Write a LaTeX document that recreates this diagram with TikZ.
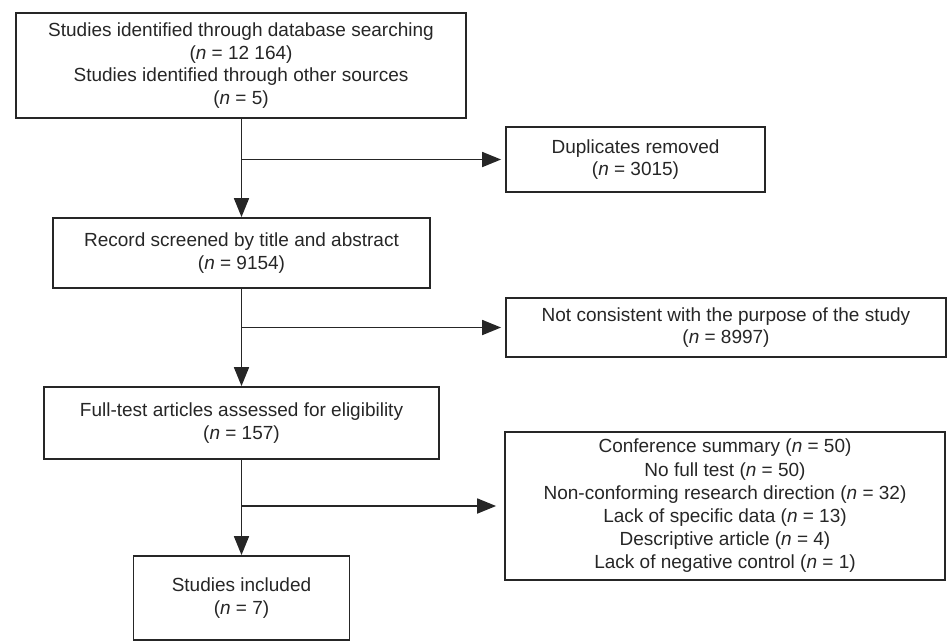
\documentclass[tikz,border=0pt]{standalone}
\usepackage{fontspec}
\setmainfont{Liberation Sans}
\usetikzlibrary{arrows.meta}

\begin{document}
\begin{tikzpicture}[
  x=1pt, y=-1pt,
  line width=1.8pt,
  flow_box/.style={draw=black!85, rectangle, align=center, inner sep=0pt, text=black!85, font=\fontsize{19}{22.8}\selectfont},
  flow_line/.style={draw=black!85},
  flow_arrow/.style={draw=black!85, -{Triangle[length=19pt, width=15pt]}},
]
\useasboundingbox (0,0) rectangle (948,641);
\draw (241,65.5) node (ident) [flow_box, minimum width=450pt, minimum height=105pt] {Studies identified through database searching\\(\textit{n} = 12 164)\\Studies identified through other sources\\(\textit{n} = 5)};
\draw (635.5,159.5) node (dupl) [flow_box, minimum width=259pt, minimum height=65pt] {Duplicates removed\\(\textit{n} = 3015)};
\draw (241.5,253) node (screen) [flow_box, minimum width=377pt, minimum height=70pt] {Record screened by title and abstract\\(\textit{n} = 9154)};
\draw (726,327.5) node (purpose) [flow_box, minimum width=440pt, minimum height=59pt] {Not consistent with the purpose of the study\\(\textit{n} = 8997)};
\draw (241.5,423) node (fulltext) [flow_box, minimum width=395pt, minimum height=72pt] {Full-test articles assessed for eligibility\\(\textit{n} = 157)};
\draw (725,506) node (excl) [flow_box, minimum width=440pt, minimum height=148pt, font=\fontsize{19}{23.2}\selectfont] {Conference summary (\textit{n} = 50)\\No full test (\textit{n} = 50)\\Non-conforming research direction (\textit{n} = 32)\\Lack of specific data (\textit{n} = 13)\\Descriptive article (\textit{n} = 4)\\Lack of negative control (\textit{n} = 1)};
\draw (241.5,598) node (incl) [flow_box, minimum width=216pt, minimum height=84pt] {Studies included\\(\textit{n} = 7)};

% branch points on the main line
\coordinate (fork1) at (screen.north |- dupl.west);
\coordinate (fork2) at (screen.north |- purpose.west);
\coordinate (fork3) at (screen.north |- excl.west);

\draw [flow_arrow] (screen.north |- ident.south) -- (screen.north);
\draw [flow_arrow] (fork1) -- ([xshift=-4pt]dupl.west);
\draw [flow_arrow] (screen.south) -- (fulltext.north);
\draw [flow_arrow] (fork2) -- ([xshift=-4pt]purpose.west);
\draw [flow_arrow] (fulltext.south) -- (incl.north);
\draw [flow_arrow] (fork3) -- ([xshift=-8pt]excl.west);
\end{tikzpicture}
\end{document}
